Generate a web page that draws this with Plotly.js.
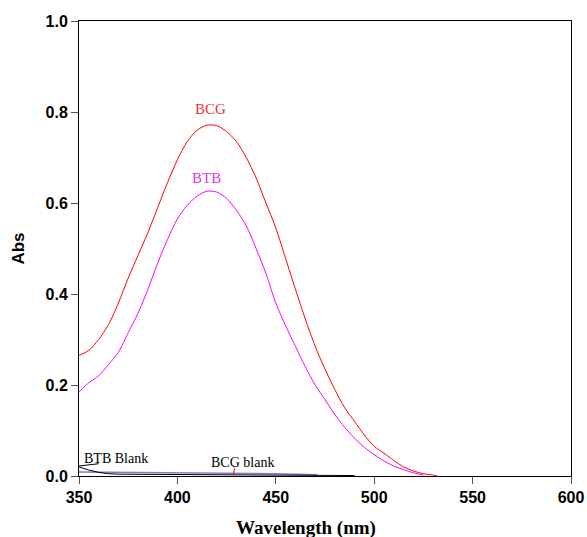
<!DOCTYPE html>
<html>
<head>
<meta charset="utf-8">
<script src="https://cdn.plot.ly/plotly-3.0.1.min.js"></script>
<style>html,body{margin:0;padding:0;background:#fff;}#chart{width:587px;height:537px;}</style>
</head>
<body>
<div id="chart"></div>
<script>
const bcgWl = [350,355,360,365,370,375,380,385,390,395,400,405,410,415,420,425,430,435,440,445,450,455,460,465,470,475,480,485,490,495,500,505,510,515,520,525,530,532];
const bcgAbs = [0.265,0.276,0.30,0.333,0.38,0.435,0.485,0.535,0.59,0.645,0.695,0.735,0.76,0.771,0.77,0.757,0.735,0.70,0.655,0.60,0.545,0.478,0.41,0.345,0.285,0.235,0.19,0.15,0.12,0.09,0.065,0.05,0.034,0.02,0.011,0.005,0.002,0.0];
const btbWl = [350,355,360,365,370,375,380,385,390,395,400,405,410,415,420,425,430,435,440,445,450,455,460,465,470,475,480,485,490,495,500,505,510,515,520,525];
const btbAbs = [0.185,0.205,0.22,0.245,0.272,0.315,0.358,0.41,0.468,0.52,0.565,0.595,0.615,0.626,0.624,0.61,0.584,0.55,0.50,0.445,0.38,0.33,0.285,0.24,0.20,0.168,0.135,0.107,0.083,0.063,0.047,0.033,0.022,0.014,0.007,0.002];
const btbBlankWl = [350,355,360,365,370,400,450,490];
const btbBlankAbs = [0.02,0.013,0.008,0.005,0.004,0.003,0.002,0.001];
const bcgBlankWl = [350,380,400,420,450,471];
const bcgBlankAbs = [0.009,0.008,0.007,0.006,0.005,0.003];
const xTicks = [350,400,450,500,550,600];
const yTicks = [0.0,0.2,0.4,0.6,0.8,1.0];
const yTickText = ['0.0','0.2','0.4','0.6','0.8','1.0'];

const traces = [
  {x: bcgBlankWl, y: bcgBlankAbs, mode:'lines', line:{color:'#7c7cd6', width:1.5}, hoverinfo:'skip'},
  {x: btbBlankWl, y: btbBlankAbs, mode:'lines', line:{color:'#000000', width:1}, hoverinfo:'skip'},
  {x: btbWl, y: btbAbs, mode:'lines', line:{color:'#ff00ff', width:1, shape:'spline', smoothing:0.8}, hoverinfo:'skip'},
  {x: bcgWl, y: bcgAbs, mode:'lines', line:{color:'#ff0000', width:1, shape:'spline', smoothing:0.8}, hoverinfo:'skip'}
];

const serif = 'Liberation Serif, Times New Roman, serif';
const layout = {
  width:587, height:537,
  margin:{l:79, r:16, t:21, b:61},
  paper_bgcolor:'#fff', plot_bgcolor:'#fff',
  showlegend:false,
  xaxis:{range:[350,600], tickvals:xTicks, ticktext:xTicks.map(String), ticks:'outside', ticklen:7, tickcolor:'#555', tickwidth:1,
    showline:true, linecolor:'#000', linewidth:1, mirror:true, showgrid:false, zeroline:false,
    tickfont:{family:'Liberation Sans, Arial, sans-serif', size:16, color:'#000', weight:'bold'}},
  yaxis:{range:[0,1.0], tickvals:yTicks, ticktext:yTickText, ticks:'outside', ticklen:7, tickcolor:'#555', tickwidth:1,
    showline:true, linecolor:'#000', linewidth:1, mirror:true, showgrid:false, zeroline:false,
    tickfont:{family:'Liberation Sans, Arial, sans-serif', size:16, color:'#000', weight:'bold'},
    title:{text:'<b>Abs</b>', standoff:16, font:{family:'Liberation Sans, Arial, sans-serif', size:17, color:'#000'}}},
  annotations:[
    {xref:'paper', yref:'paper', x:0.461, y:-0.115, text:'<b>Wavelength (nm)</b>', showarrow:false, xanchor:'center', yanchor:'middle',
      font:{family:serif, size:19, color:'#000'}},
    {x:417, y:0.806, text:'BCG', showarrow:false, font:{family:serif, size:15, color:'#e8303a'}},
    {x:415, y:0.656, text:'BTB', showarrow:false, font:{family:serif, size:15, color:'#d83ad8'}},
    {x:369, y:0.039, text:'BTB Blank', showarrow:false, font:{family:serif, size:14, color:'#000'}},
    {x:433, y:0.030, text:'BCG blank', showarrow:false, font:{family:serif, size:14, color:'#000'}}
  ],
  shapes:[
    {type:'line', x0:429, x1:428.5, y0:0.018, y1:0.004, line:{color:'#ff0000', width:1}},
    {type:'line', x0:350, x1:360, y0:0.022, y1:0.027, line:{color:'#000', width:1}}
  ]
};
Plotly.newPlot('chart', traces, layout, {staticPlot:true, displayModeBar:false});
</script>
</body>
</html>
